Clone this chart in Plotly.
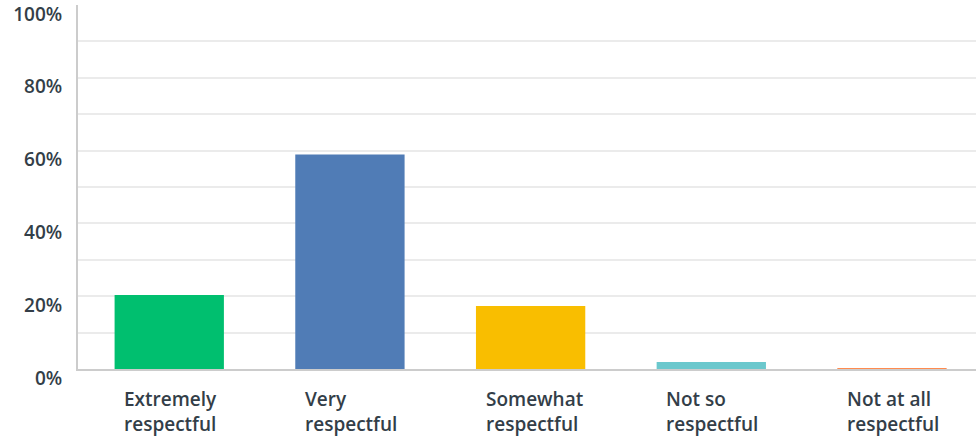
import plotly.graph_objects as go

categories = ["Extremely<br>respectful", "Very<br>respectful", "Somewhat<br>respectful",
              "Not so<br>respectful", "Not at all<br>respectful"]
values = [20.3, 58.9, 17.3, 1.9, 0.3]
colors = ["#00bf6f", "#507cb6", "#f9be00", "#6bc8cd", "#ff8b4f"]
y_tickvals = [0, 20, 40, 60, 80, 100]
y_ticktext = ["0%", "20%", "40%", "60%", "80%", "100%"]

FONT = "Open Sans"
TEXT_COLOR = "#333e48"

x_idx = list(range(len(categories)))

fig = go.Figure(go.Bar(
    x=x_idx, y=values, marker=dict(color=colors, line=dict(width=0)),
    hoverinfo="skip",
))

annotations = []
for i, lab in enumerate(categories):
    annotations.append(dict(
        x=i, xref="x", y=0, yref="paper", text=lab, showarrow=False,
        xanchor="left", yanchor="top", align="left", xshift=-47, yshift=-15,
        font=dict(family=FONT, size=19, color=TEXT_COLOR, weight=600),
    ))

fig.update_layout(
    width=976, height=443,
    margin=dict(l=78, r=0, t=5, b=74, autoexpand=False),
    paper_bgcolor="white", plot_bgcolor="white",
    bargap=0.395, showlegend=False,
    annotations=annotations,
    xaxis=dict(
        range=[-0.505, 4.465], showticklabels=False, showgrid=False, zeroline=False,
        showline=True, linecolor="#cccccc", linewidth=2, ticks="", automargin=False,
    ),
    yaxis=dict(
        range=[0, 100], tickvals=y_tickvals, ticktext=y_ticktext,
        showgrid=True, gridcolor="#ebebeb", gridwidth=2,
        minor=dict(dtick=10, showgrid=True, gridcolor="#ebebeb", gridwidth=2),
        zeroline=False, showline=True, linecolor="#cccccc", linewidth=2,
        ticks="", ticklabelshift=9, ticklabelstandoff=10, automargin=False,
        ticklabeloverflow="allow",
        tickfont=dict(family=FONT, size=19, color=TEXT_COLOR, weight=600),
    ),
)

fig.write_html(
    "out.html",
    config={"displayModeBar": False, "staticPlot": True},
    post_script="document.body.style.margin='0';document.body.style.overflow='hidden';",
)
